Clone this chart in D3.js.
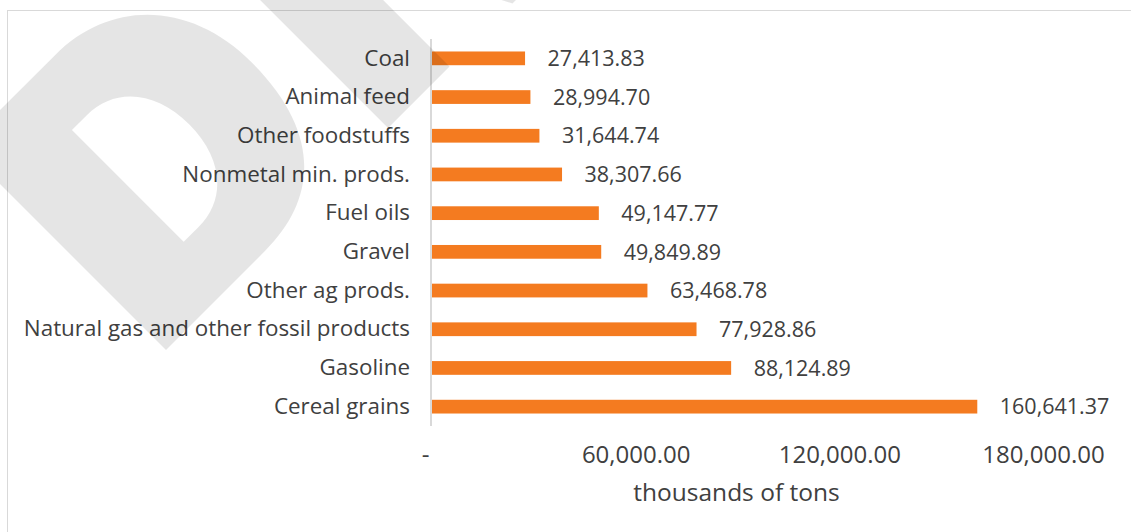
<!DOCTYPE html>
<html>
<head>
<meta charset="utf-8">
<script src="https://cdn.jsdelivr.net/npm/d3@7"></script>
<style>
  html, body { margin: 0; padding: 0; background: #fff; }
  svg { display: block; }
  text { font-family: "Open Sans", "Noto Sans", sans-serif; fill: #404040; }
</style>
</head>
<body>
<svg id="chart" width="1131" height="532"></svg>
<script>
// Top freight commodities by tonnage
const categories = [
  "Coal", "Animal feed", "Other foodstuffs", "Nonmetal min. prods.", "Fuel oils",
  "Gravel", "Other ag prods.", "Natural gas and other fossil products", "Gasoline", "Cereal grains"
];
const values = [
  27413.83, 28994.70, 31644.74, 38307.66, 49147.77,
  49849.89, 63468.78, 77928.86, 88124.89, 160641.37
];
const tickValues = [0, 60000, 120000, 180000];
const tickLabels = ["-", "60,000.00", "120,000.00", "180,000.00"];
const axisTitle = "thousands of tons";

const W = 1131, H = 532;
const svg = d3.select("#chart");

// frame
svg.append("rect")
  .attr("x", 7.5).attr("y", 10.5)
  .attr("width", W).attr("height", H)
  .attr("fill", "#fff").attr("stroke", "#d9d9d9").attr("stroke-width", 1);

const x = d3.scaleLinear().domain([0, 180000]).range([432, 1043]);
const y = d3.scaleBand().domain(categories).range([39, 426]).paddingInner(0.645).paddingOuter(0.3225);

// bars
svg.append("g").selectAll("rect")
  .data(categories)
  .join("rect")
  .attr("x", x(0))
  .attr("y", d => y(d))
  .attr("width", (d, i) => x(values[i]) - x(0))
  .attr("height", y.bandwidth())
  .attr("fill", "#f47b20");

// category axis
const yAxis = svg.append("g")
  .attr("transform", `translate(${x(0)},0)`)
  .call(d3.axisLeft(y).tickSize(0).tickPadding(22));
yAxis.select(".domain").attr("stroke", "#d9d9d9").attr("stroke-width", 2)
  .attr("d", `M-1,39V426`);
yAxis.selectAll("text")
  .style("font-family", '"Open Sans", sans-serif')
  .style("font-size", "22.4px")
  .attr("fill", "#404040");

// value axis (labels only)
const xAxis = svg.append("g")
  .attr("transform", `translate(0,463)`)
  .call(d3.axisBottom(x).tickValues(tickValues).tickSize(0).tickPadding(0)
    .tickFormat((d, i) => tickLabels[i]));
xAxis.select(".domain").remove();
xAxis.selectAll("text")
  .style("font-family", '"Open Sans", sans-serif')
  .style("font-size", "24px")
  .attr("fill", "#404040")
  .attr("y", 0).attr("dy", 0)
  .attr("dx", (d, i) => i === 0 ? -7 : 0);

// value labels
const fmt = d3.format(",.2f");
svg.append("g").selectAll("text")
  .data(categories)
  .join("text")
  .attr("x", (d, i) => x(values[i]) + 22.5)
  .attr("y", d => y(d) + y.bandwidth() / 2)
  .attr("dy", "0.36em")
  .style("font-size", "21.5px")
  .text((d, i) => fmt(values[i]));

// axis title
svg.append("text")
  .attr("x", 736.5).attr("y", 500.5)
  .attr("text-anchor", "middle")
  .style("font-size", "24.5px")
  .text(axisTitle);

// DRAFT watermark: heavy D and R letters set on a -45° baseline
const H_CAP = 287;
const wm = svg.append("g")
  .attr("transform", "translate(166,350) rotate(-45)")
  .attr("fill", "#000").attr("fill-opacity", 0.1).attr("fill-rule", "evenodd");
// letter D (local coords: x along baseline, y up is negative)
wm.append("path").attr("d",
  `M0,0 V${-H_CAP} H130 C210,${-H_CAP} 264,-228 264,-143 C264,-45 215,0 140,0 Z
   M89,-64 V-222 H110 C150,-222 176,-190 176,-143 C176,-96 150,-64 110,-64 Z`);
// letter R
wm.append("path").attr("d",
  `M314,0 V${-H_CAP} H470 C540,${-H_CAP} 580,-250 580,-200 C580,-160 560,-135 530,-125 L600,0 H490 L432,-112 H401 V0 Z
   M401,-222 V-160 H460 C480,-160 492,-172 492,-191 C492,-210 480,-222 460,-222 Z`);
</script>
</body>
</html>
